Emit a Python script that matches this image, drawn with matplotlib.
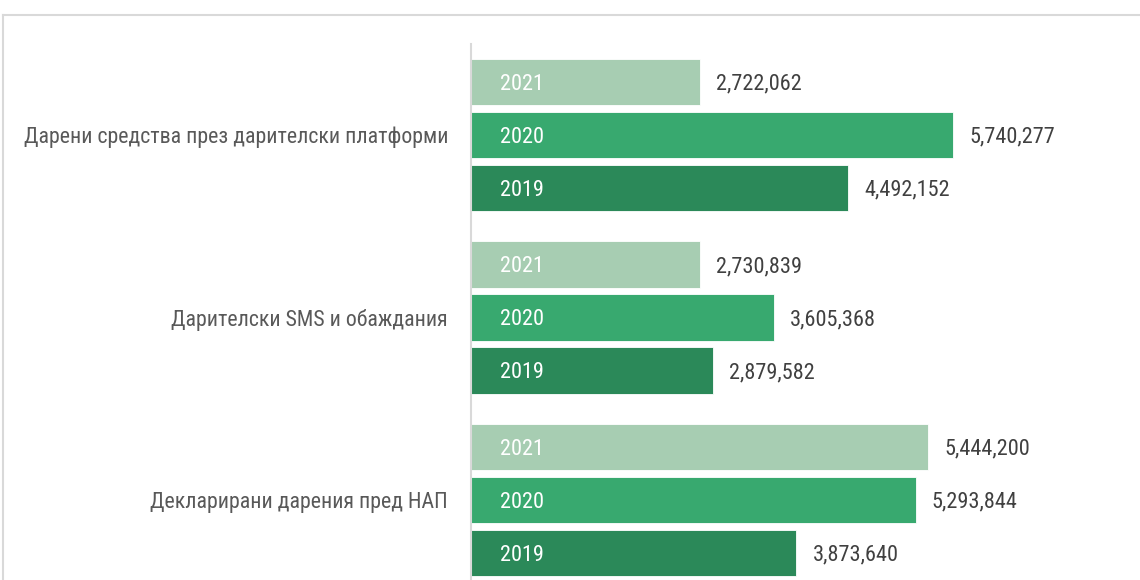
import matplotlib
matplotlib.use("Agg")
import matplotlib.pyplot as plt
from matplotlib.lines import Line2D
from matplotlib import font_manager

categories = ["Дарени средства през дарителски платформи",
              "Дарителски SMS и обаждания",
              "Декларирани дарения пред НАП"]
years = ["2021", "2020", "2019"]
values = {
    "2021": [2722062, 2730839, 5444200],
    "2020": [5740277, 3605368, 5293844],
    "2019": [4492152, 2879582, 3873640],
}
colors = {"2021": "#a7cdb2", "2020": "#38a96f", "2019": "#2b8959"}

installed = {f.name for f in font_manager.fontManager.ttflist}
main_font = next((f for f in ['Roboto Condensed', 'PT Sans Narrow', 'Sofia Sans Semi Condensed',
                              'Liberation Sans'] if f in installed), 'Liberation Sans')
families = [main_font, 'Liberation Sans', 'DejaVu Sans']
plt.rcParams['font.family'] = families

W, H = 1140, 580
fig = plt.figure(figsize=(W / 100, H / 100), dpi=100)
renderer = fig.canvas.get_renderer()


def fit_size(s, target_px, base=16):
    t = fig.text(0, 0, s, fontsize=base)
    w = t.get_window_extent(renderer).width
    t.remove()
    return base * target_px / w


fs_num = fit_size("2,722,062", 86)
fs_cat = fit_size(categories[2], 298)

ax_left, ax_right, ax_top, ax_bottom = 471, 1130, 44, 580
ax = fig.add_axes([ax_left / W, 1 - ax_bottom / H, (ax_right - ax_left) / W, (ax_bottom - ax_top) / H])

px_per_unit = 84 / 1e6
xmax = (ax_right - ax_left) / px_per_unit
ax.set_xlim(0, xmax)

group_step = 3.44
bar_h = 0.87
ymin = -0.717
ymax = 2 * group_step + 2 + 0.51
ax.set_ylim(ymax, ymin)

for gi, cat in enumerate(categories):
    for j, yr in enumerate(years):
        v = values[yr][gi]
        yc = gi * group_step + j
        ax.barh(yc, v, height=bar_h, color=colors[yr], edgecolor='white', linewidth=0.6)
        ax.text(29 / px_per_unit, yc + 0.04, yr, color='white', fontsize=fs_num, va='center', ha='left')
        ax.text(v + 16 / px_per_unit, yc + 0.04, f"{v:,}", color='#404040', fontsize=fs_num, va='center', ha='left')

ax.set_yticks([gi * group_step + 1 for gi in range(len(categories))])
ax.set_yticklabels(categories, fontsize=fs_cat, color='#595959')
ax.tick_params(axis='y', length=0, pad=16.5)
ax.set_xticks([])
for s in ['top', 'right', 'bottom']:
    ax.spines[s].set_visible(False)
ax.spines['left'].set_color('#d9d9d9')
ax.spines['left'].set_linewidth(1.5)

# outer frame (partially visible)
fig.add_artist(Line2D([3 / W, 1], [1 - 15 / H, 1 - 15 / H], color='#d9d9d9', lw=1.5, transform=fig.transFigure))
fig.add_artist(Line2D([3 / W, 3 / W], [0, 1 - 15 / H], color='#d9d9d9', lw=1.5, transform=fig.transFigure))

fig.savefig("out.png", dpi=100)
